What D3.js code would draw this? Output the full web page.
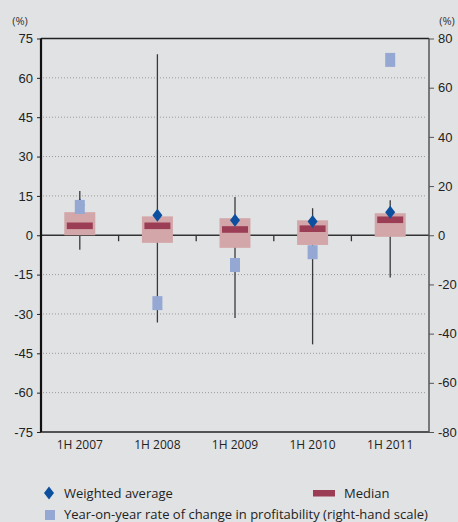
<!DOCTYPE html>
<html>
<head>
<meta charset="utf-8">
<script src="https://cdn.jsdelivr.net/npm/d3@7"></script>
<style>
body { margin: 0; background: #e1e2e4; }
svg { display: block; font-family: "Open Sans", "Noto Sans", sans-serif; }
</style>
</head>
<body>
<div class="main"></div>
<script>
// data
var periods = ["1H 2007", "1H 2008", "1H 2009", "1H 2010", "1H 2011"];
var whiskerHigh = [16.9, 69.0, 14.6, 10.3, 13.3];
var whiskerLow = [-5.5, -33.3, -31.5, -41.6, -16.1];
var boxHigh = [8.8, 7.2, 6.5, 5.7, 8.4];
var boxLow = [0, -2.9, -4.8, -3.7, -0.6];
var median = [3.6, 3.6, 2.2, 2.5, 5.9];
var weighted = [11.5, 7.6, 5.7, 5.2, 8.8];
var profitChange = [11.5, -27.6, -12.1, -6.9, 71.3]; // right-hand scale
var leftTicks = [75, 60, 45, 30, 15, 0, -15, -30, -45, -60, -75];
var rightTicks = [80, 60, 40, 20, 0, -20, -40, -60, -80];

var margin = {top: 38.5, right: 29, bottom: 90, left: 41},
    width = 458 - margin.left - margin.right,
    height = 522 - margin.top - margin.bottom;

var svg = d3.select(".main").append("svg")
    .attr("width", 458)
    .attr("height", 522);

var g = svg.append("g")
    .attr("transform", "translate(" + margin.left + "," + margin.top + ")");

var x = d3.scaleBand().domain(periods).range([0, width]);
var yL = d3.scaleLinear().domain([-75, 75]).range([height, 0]);
var yR = d3.scaleLinear().domain([-80, 80]).range([height, 0]);

var rows = periods.map(function(p, i) {
    return {name: p, hi: whiskerHigh[i], lo: whiskerLow[i], bh: boxHigh[i], bl: boxLow[i],
        med: median[i], wa: weighted[i], pc: profitChange[i]};
});

// dotted grid
g.selectAll(".grid").data(leftTicks.filter(function(d) { return d != 0 && Math.abs(d) != 75; }))
    .enter().append("line")
    .attr("x1", 2).attr("x2", width - 2)
    .attr("y1", function(d) { return yL(d); })
    .attr("y2", function(d) { return yL(d); })
    .style("stroke", "#9a9a9a")
    .style("stroke-width", 1)
    .style("stroke-dasharray", "1,2");

// zero line + band separators
g.append("line")
    .attr("x1", 0).attr("x2", width)
    .attr("y1", yL(0)).attr("y2", yL(0))
    .style("stroke", "#333").style("stroke-width", 1.3);
g.selectAll(".sep").data(periods.slice(1))
    .enter().append("line")
    .attr("x1", function(d) { return x(d); })
    .attr("x2", function(d) { return x(d); })
    .attr("y1", yL(0)).attr("y2", yL(0) + 6)
    .style("stroke", "#333").style("stroke-width", 1.3);

var cx = function(d) { return x(d.name) + x.bandwidth() / 2; };

// whiskers
g.selectAll(".whisker").data(rows).enter().append("line")
    .attr("x1", cx).attr("x2", cx)
    .attr("y1", function(d) { return yL(d.hi); })
    .attr("y2", function(d) { return yL(d.lo); })
    .style("stroke", "#3a3a3a").style("stroke-width", 1.3);

// boxes
g.selectAll(".box").data(rows).enter().append("rect")
    .attr("x", function(d) { return cx(d) - 15.5; })
    .attr("width", 31)
    .attr("y", function(d) { return yL(d.bh); })
    .attr("height", function(d) { return yL(d.bl) - yL(d.bh); })
    .style("fill", "#d3a7a9");

// medians
g.selectAll(".med").data(rows).enter().append("rect")
    .attr("x", function(d) { return cx(d) - 13; })
    .attr("width", 26)
    .attr("y", function(d) { return yL(d.med) - 3.3; })
    .attr("height", 6.6)
    .style("fill", "#9c3d56");

// weighted average diamonds
var diamond = "M0,-6.5L5,0L0,6.5L-5,0Z";
g.selectAll(".wa").data(rows).enter().append("path")
    .attr("d", diamond)
    .attr("transform", function(d) { return "translate(" + cx(d) + "," + yL(d.wa) + ")"; })
    .style("fill", "#0b4f9e");

// profitability change squares (right scale)
g.selectAll(".pc").data(rows).enter().append("rect")
    .attr("x", function(d) { return cx(d) - 5; })
    .attr("width", 10)
    .attr("y", function(d) { return yR(d.pc) - 7; })
    .attr("height", 14)
    .style("fill", "#95a8d4");

// axes
var axisL = d3.axisLeft(yL).tickValues(leftTicks).tickSize(4).tickPadding(4)
    .tickFormat(function(d) { return d; });
var axisR = d3.axisRight(yR).tickValues(rightTicks).tickSize(5).tickPadding(4)
    .tickFormat(function(d) { return d; });

var gl = g.append("g").call(axisL);
gl.select(".domain").remove();
gl.selectAll("line").style("stroke", "#222");
gl.selectAll("text").style("font-size", "13px").style("fill", "#222");

var gr = g.append("g").attr("transform", "translate(" + width + ",0)").call(axisR);
gr.select(".domain").remove();
gr.selectAll("line").style("stroke", "#555");
gr.selectAll("text").style("font-size", "13px").style("fill", "#222");

// frame
g.append("line").attr("x1", 0).attr("x2", width).attr("y1", 0).attr("y2", 0)
    .style("stroke", "#222").style("stroke-width", 1.5);
g.append("line").attr("x1", 0).attr("x2", width).attr("y1", height).attr("y2", height)
    .style("stroke", "#222").style("stroke-width", 1.5);
g.append("line").attr("x1", 0).attr("x2", 0).attr("y1", 0).attr("y2", height)
    .style("stroke", "#111").style("stroke-width", 2.2);
g.append("line").attr("x1", width).attr("x2", width).attr("y1", 0).attr("y2", height)
    .style("stroke", "#555").style("stroke-width", 1.5);

// category labels
g.selectAll(".cat").data(periods).enter().append("text")
    .attr("x", function(d) { return x(d) + x.bandwidth() / 2; })
    .attr("y", height + 17)
    .attr("text-anchor", "middle")
    .style("font-size", "12px")
    .style("fill", "#222")
    .text(function(d) { return d; });

// unit labels
svg.append("text").attr("x", 20).attr("y", 25).attr("text-anchor", "middle")
    .style("font-size", "11px").style("fill", "#333").text("(%)");
svg.append("text").attr("x", 447).attr("y", 25).attr("text-anchor", "middle")
    .style("font-size", "11px").style("fill", "#333").text("(%)");

// legend
svg.append("path").attr("d", diamond).attr("transform", "translate(49,493)")
    .style("fill", "#0b4f9e");
svg.append("text").attr("x", 64).attr("y", 498).style("font-size", "13px")
    .style("fill", "#222").text("Weighted average");
svg.append("rect").attr("x", 313).attr("y", 490).attr("width", 22).attr("height", 6.5)
    .style("fill", "#9c3d56");
svg.append("text").attr("x", 344).attr("y", 498).style("font-size", "13px")
    .style("fill", "#222").text("Median");
svg.append("rect").attr("x", 45).attr("y", 510).attr("width", 10).attr("height", 10)
    .style("fill", "#95a8d4");
svg.append("text").attr("x", 64).attr("y", 519).style("font-size", "13px")
    .style("fill", "#222").text("Year-on-year rate of change in profitability (right-hand scale)");
</script>
</body>
</html>
